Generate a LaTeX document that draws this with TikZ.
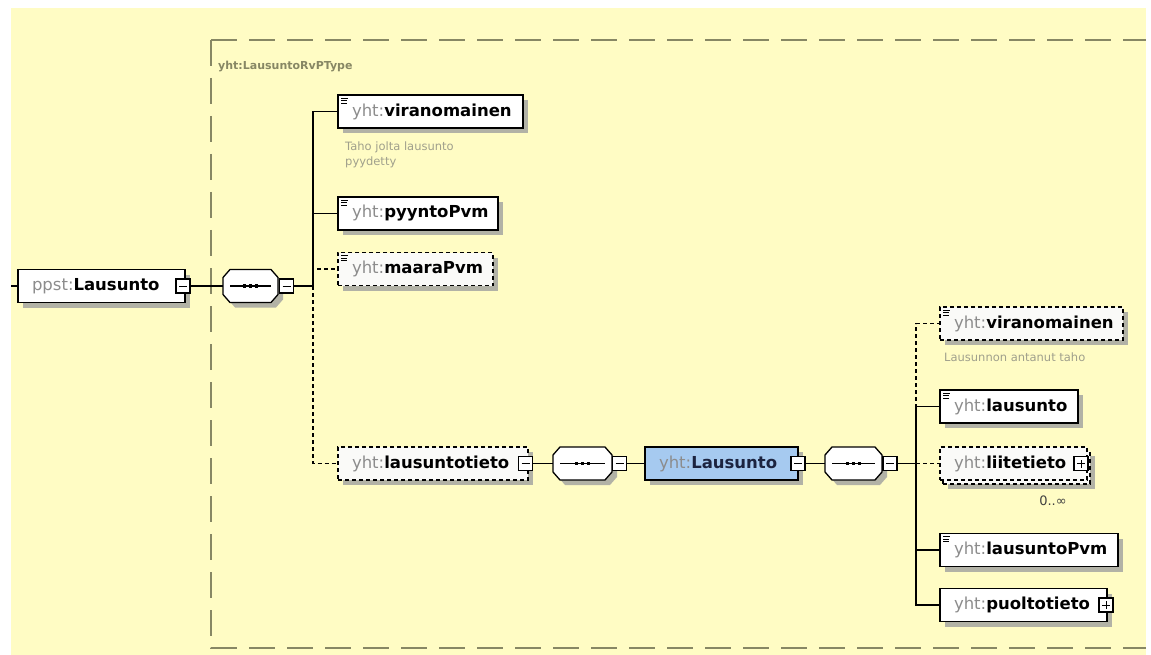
\documentclass[tikz,border=0pt]{standalone}
\usepackage{fontspec}
\setmainfont{DejaVu Sans}
\usetikzlibrary{shadows}
\setlength{\parindent}{0pt}
\definecolor{bgy}{RGB}{255,252,196}
\definecolor{framec}{RGB}{135,135,100}
\definecolor{pfx}{RGB}{140,140,140}
\definecolor{annc}{RGB}{160,160,140}
\definecolor{shd}{RGB}{178,178,166}
\definecolor{cblue}{RGB}{166,202,240}
\definecolor{optfill}{RGB}{250,250,248}
\definecolor{navy}{RGB}{28,36,64}
\newcommand\pf[2]{\hspace*{14pt}{\color{pfx}#1:}\textbf{#2}}
\newcommand\octpath[3]{([xshift=7pt+#2,yshift=#3]#1.north west) -- ([xshift=-7pt+#2,yshift=#3]#1.north east) -- ([xshift=#2,yshift=-8pt+#3]#1.north east) -- ([xshift=#2,yshift=8pt+#3]#1.south east) -- ([xshift=-7pt+#2,yshift=#3]#1.south east) -- ([xshift=7pt+#2,yshift=#3]#1.south west) -- ([xshift=#2,yshift=8pt+#3]#1.south west) -- ([xshift=#2,yshift=-8pt+#3]#1.north west) -- cycle}
\newcommand\seqnode[3]{%
  \node[seqbox, minimum width=#3] (#1) at (#2) {};
  \fill[shd] \octpath{#1}{5pt}{-5pt};
  \draw[line width=1.3pt, fill=white] \octpath{#1}{0pt}{0pt};
  \draw[line width=1.1pt] ([xshift=7pt]#1.west) -- ([xshift=-7pt]#1.east);
  \foreach \d in {-6,0,6} \fill ([xshift=\d pt-1.75pt,yshift=1.75pt]#1.center) rectangle ++(3.5,3.5);
}
\newcommand\minusbox[2]{\node[pm] (#1) at (#2) {}; \draw[line width=1pt] ([xshift=-4pt]#1.center) -- ([xshift=4pt]#1.center);}
\newcommand\plusbox[2]{\node[pm] (#1) at (#2) {}; \draw[line width=1pt] ([xshift=-4pt]#1.center) -- ([xshift=4pt]#1.center) ([yshift=-4pt]#1.center) -- ([yshift=4pt]#1.center);}
\newcommand\eicon[1]{\draw[line width=0.7pt] ([xshift=3pt,yshift=-3pt]#1.north west) -- +(7,0) ([xshift=3pt,yshift=-5.5pt]#1.north west) -- +(6,0) ([xshift=3pt,yshift=-8pt]#1.north west) -- +(6,0);}
\tikzset{
  base/.style={line width=1.4pt, draw=black, minimum height=33pt, inner xsep=0pt, inner ysep=0pt,
    outer sep=0pt, anchor=west, align=left, font=\fontsize{16.5}{19}\selectfont},
  shad/.style={drop shadow={shadow xshift=5pt, shadow yshift=-5pt, fill=shd, opacity=1}},
  elem/.style={base, shad, fill=white, text width=#1},
  optelem/.style={base, shad, fill=optfill, dash pattern=on 4pt off 3pt, text width=#1},
  optfront/.style={base, fill=optfill, dash pattern=on 4pt off 3pt, text width=#1},
  typeelem/.style={base, shad, fill=cblue, text width=#1},
  seqbox/.style={draw=none, minimum height=33pt, inner sep=0pt, outer sep=0pt, anchor=west},
  pm/.style={draw=black, fill=white, line width=1.1pt, minimum size=14pt, inner sep=0pt, outer sep=0pt},
  conn/.style={line width=1.3pt, draw=black},
  optconn/.style={conn, dash pattern=on 4pt off 3pt},
  annot/.style={anchor=north west, align=left, text=annc, inner sep=0pt, font=\fontsize{11.5}{14.5}\selectfont},
}
\begin{document}
\begin{tikzpicture}[x=1pt,y=-1pt]
\useasboundingbox (0,0) rectangle (1151,655);
\fill[white] (0,0) rectangle (1151,655);
\fill[bgy] (11,8) rectangle (1146,655);
% frame of the complex type
\draw[framec, line width=1.3pt, dash pattern=on 26pt off 12pt] (211,40) -- (1146,40);
\draw[framec, line width=1.3pt, dash pattern=on 26pt off 12pt] (211,40) -- (211,648) -- (1146,648);
\node[anchor=west, inner sep=0pt, text=framec, font=\bfseries\fontsize{11}{13}\selectfont] (tname) at (218,67) {yht:LausuntoRvPType};
% annotations
\node[annot] (ann1) at (345,142) {Taho jolta lausunto\\pyydetty};
\node[annot] (ann2) at (944,353) {Lausunnon antanut taho};
\node[anchor=center, inner sep=0pt, text=black!75, font=\fontsize{13}{15}\selectfont] (occ) at (1053,501) {0..∞};
% root element
\node[elem=167pt] (ppst) at (18,286) {\pf{ppst}{Lausunto}};
\minusbox{m0}{183,286}
% first sequence
\seqnode{s1}{223,286}{55pt}
\minusbox{m1}{286.5,286}
% children of the sequence
\node[elem=185pt] (vir) at (338,111.5) {\pf{yht}{viranomainen}};
\eicon{vir}
\node[elem=160pt] (pyy) at (338,213.5) {\pf{yht}{pyyntoPvm}};
\eicon{pyy}
\node[optelem=155pt] (maara) at (338,269) {\pf{yht}{maaraPvm}};
\eicon{maara}
\node[optelem=190pt] (lt) at (338,463.5) {\pf{yht}{lausuntotieto}};
\minusbox{m2}{525.5,463.5}
% second sequence and the type
\seqnode{s2}{553,463.5}{59pt}
\minusbox{m3}{619.5,463.5}
\node[typeelem=153pt] (typ) at (645,463.5) {\hspace*{14pt}{\color{pfx}yht:}\textbf{\color{navy}Lausunto}};
\minusbox{m4}{798,463.5}
\seqnode{s3}{825,463.5}{57pt}
\minusbox{m5}{890,463.5}
% children of the inner sequence
\node[optelem=183pt] (vir2) at (940,323.5) {\pf{yht}{viranomainen}};
\eicon{vir2}
\node[elem=138pt] (laus) at (940,406.5) {\pf{yht}{lausunto}};
\eicon{laus}
\node[optelem=147pt] (liiteb) at (943,467.5) {};
\node[optfront=147pt] (liite) at (940,463.5) {\pf{yht}{liitetieto}};
\plusbox{m6}{1081,463.5}
\node[elem=178pt] (lpvm) at (940,550) {\pf{yht}{lausuntoPvm}};
\eicon{lpvm}
\node[elem=167pt] (puolto) at (940,605) {\pf{yht}{puoltotieto}};
\plusbox{m7}{1106,605}
% connectors
\coordinate (in) at (11,286);
\coordinate (b1) at (313,286);
\coordinate (b2) at (916,463.5);
\draw[conn] (in) -- (ppst.west);
\draw[conn] (m0.east) -- (s1.west);
\draw[conn] (m1.east) -- (b1);
\draw[optconn] (b1) |- (maara.west);
\draw[optconn] (b1) |- (lt.west);
\draw[conn] (b1) |- (vir.west);
\draw[conn] (b1) |- (pyy.west);
\draw[conn] (m2.east) -- (s2.west);
\draw[conn] (m3.east) -- (typ.west);
\draw[conn] (m4.east) -- (s3.west);
\draw[conn] (m5.east) -- (b2);
\draw[optconn] (b2) |- (vir2.west);
\draw[optconn] (b2) -- (liite.west);
\draw[conn] (b2) |- (laus.west);
\draw[conn] (b2) |- (lpvm.west);
\draw[conn] (b2) |- (puolto.west);
\end{tikzpicture}
\end{document}
